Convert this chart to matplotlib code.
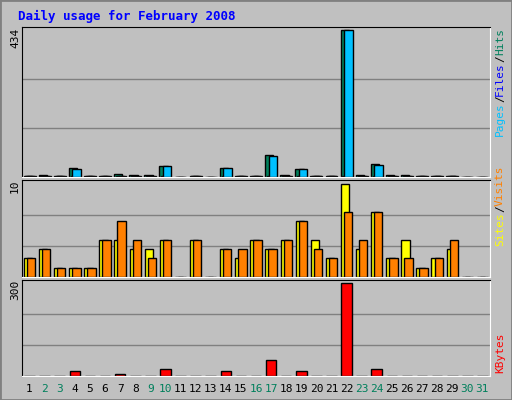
import matplotlib.pyplot as plt
from matplotlib.patches import Rectangle

days = list(range(1, 32))
weekend = [2, 3, 9, 10, 16, 17, 23, 24, 30, 31]

hits = [2, 5, 2, 26, 2, 4, 8, 5, 5, 32, 0, 4, 0, 27, 4, 4, 64, 7, 24, 4, 2, 434, 5, 38, 5, 5, 2, 2, 4, 0, 0]
files = [1, 1, 1, 1, 1, 1, 3, 1, 1, 1, 0, 1, 0, 1, 2, 1, 1, 3, 1, 1, 1, 2, 1, 1, 1, 1, 1, 1, 1, 0, 0]
pages = [2, 4, 2, 24, 2, 4, 4, 4, 4, 32, 0, 4, 0, 27, 4, 4, 62, 4, 24, 4, 2, 434, 4, 35, 4, 4, 2, 2, 4, 0, 0]
sites = [2, 3, 1, 1, 1, 4, 4, 3, 3, 4, 0, 4, 0, 3, 2, 4, 3, 4, 6, 4, 2, 10, 3, 7, 2, 4, 1, 2, 3, 0, 0]
visits = [2, 3, 1, 1, 1, 4, 6, 4, 2, 4, 0, 4, 0, 3, 3, 4, 3, 4, 6, 3, 2, 7, 4, 7, 2, 2, 1, 2, 4, 0, 0]
kbytes = [1, 1, 1, 17, 1, 1, 6, 1, 1, 23, 0, 1, 0, 17, 1, 1, 52, 1, 17, 1, 1, 300, 1, 23, 1, 1, 1, 1, 1, 0, 0]

W, H = 512, 400
fig = plt.figure(figsize=(W / 100, H / 100), dpi=100)
fig.patch.set_facecolor("#c0c0c0")
# bevel border
fig.add_artist(Rectangle((0, 0), 1, 1, transform=fig.transFigure, fill=False, ec="#808080", lw=2))

x0, x1 = 22 / W, 490 / W
panels = [(27, 177), (180, 277), (280, 376)]
axes = []
for top, bot in panels:
    ax = fig.add_axes([x0, 1 - bot / H, x1 - x0, (bot - top) / H])
    ax.set_facecolor("#c0c0c0")
    ax.set_xlim(0.5, 31.5)
    ax.set_xticks([])
    ax.set_yticks([])
    for s in ax.spines.values():
        s.set_color("black")
    ax.spines["bottom"].set_color("white")
    ax.spines["right"].set_color("white")
    axes.append(ax)


def grid(ax, ymax):
    for f in (1 / 3, 2 / 3):
        ax.axhline(ymax * f, color="#808080", lw=1, zorder=0)


def bars(ax, vals, off, w, color):
    v = [max(a, 0.004 * ax.get_ylim()[1]) if a > 0 else 0 for a in vals]
    ax.bar([d + off for d in days], v, width=w, color=color, ec="black", lw=1, zorder=2)


ax = axes[0]
ax.set_ylim(0, 434 * 1.02)
grid(ax, 434)
bars(ax, hits, -0.12, 0.55, "#00805c")
bars(ax, files, 0.0, 0.55, "#0000ff")
bars(ax, pages, 0.12, 0.55, "#00c0ff")

ax = axes[1]
ax.set_ylim(0, 10.4)
grid(ax, 10)
bars(ax, sites, -0.1, 0.55, "#ffff00")
bars(ax, visits, 0.1, 0.55, "#ff8000")

ax = axes[2]
ax.set_ylim(0, 310)
grid(ax, 300)
bars(ax, kbytes, 0, 0.7, "#ff0000")

font = "DejaVu Sans Mono"
fig.text(18 / W, 1 - 16 / H, "Daily usage for February 2008", color="#0000ff",
         family=font, weight="bold", fontsize=9, va="center")
for ypix, lab in [(38, "434"), (186, "10"), (290, "300")]:
    fig.text(15 / W, 1 - ypix / H, lab, rotation=90, family=font, fontsize=8,
             ha="center", va="center")

for d in days:
    x = x0 + (d - 0.5) / 31 * (x1 - x0)
    fig.text(x, 1 - 389 / H, str(d), color="#00805c" if d in weekend else "black",
             family=font, fontsize=8, ha="center", va="center")

renderer = fig.canvas.get_renderer()


def side(ybot, parts):
    # rotated text reads bottom to top; stack pieces upward
    y = 1 - ybot / H
    for txt, c in parts:
        t = fig.text(500 / W, y, txt, color=c, rotation=90, family=font,
                     fontsize=8, ha="center", va="bottom")
        y += t.get_window_extent(renderer).height / H


side(136, [("Pages", "#00c0ff"), ("/", "black"), ("Files", "#0000ff"), ("/", "black"), ("Hits", "#00805c")])
side(246, [("Sites", "#ffff00"), ("/", "black"), ("Visits", "#ff8000")])
side(373, [("KBytes", "#ff0000")])

fig.savefig("out.png", dpi=100, facecolor=fig.get_facecolor())
